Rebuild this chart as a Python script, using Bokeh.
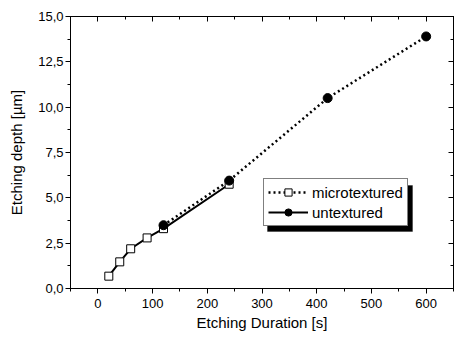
from bokeh.plotting import figure
from bokeh.models import (LinearAxis, SingleIntervalTicker, CustomJSTickFormatter,
                          Range1d, Legend, LegendItem, BoxAnnotation)
from bokeh.embed import file_html
from bokeh.resources import INLINE

# microtextured samples (open squares, solid line)
micro_x = [20, 40, 60, 90, 120, 240]
micro_y = [0.68, 1.47, 2.19, 2.79, 3.30, 5.75]
# untextured samples (filled circles, dotted line)
untex_x = [120, 240, 420, 600]
untex_y = [3.49, 5.95, 10.5, 13.9]

x_label = "Etching Duration [s]"
y_label = "Etching depth [µm]"
labels = ["microtextured", "untextured"]

FONT = "Liberation Sans"

p = figure(width=457, height=333, output_backend="svg", toolbar_location=None,
           x_range=Range1d(-50, 650), y_range=Range1d(0, 15),
           min_border_left=70, min_border_right=4, min_border_top=16,
           min_border_bottom=44)
p.xgrid.visible = False
p.ygrid.visible = False
p.outline_line_color = "black"
p.background_fill_color = "white"

xt = SingleIntervalTicker(interval=100, num_minor_ticks=2)
yt = SingleIntervalTicker(interval=2.5, num_minor_ticks=2)
yfmt = CustomJSTickFormatter(code="return tick.toFixed(1).replace('.', ',');")


def style(ax, labels_on, inward):
    ax.axis_line_color = "black"
    ax.axis_line_width = 1
    ax.major_tick_line_color = "black"
    ax.minor_tick_line_color = "black"
    if inward:
        ax.major_tick_in, ax.major_tick_out = 5, 0
        ax.minor_tick_in, ax.minor_tick_out = 3, 0
    else:
        ax.major_tick_in, ax.major_tick_out = 0, 5
        ax.minor_tick_in, ax.minor_tick_out = 0, 3
    ax.major_label_text_font = FONT
    ax.major_label_text_font_size = "13px"
    ax.major_label_text_color = "black"
    ax.axis_label_text_font = FONT
    ax.axis_label_text_font_size = "15px"
    ax.axis_label_text_font_style = "normal"
    ax.axis_label_text_color = "black"
    if not labels_on:
        ax.major_label_text_alpha = 0
        ax.major_label_text_font_size = "1px"
        ax.major_label_standoff = 0


p.xaxis.ticker = xt
p.yaxis.ticker = yt
p.yaxis.formatter = yfmt
p.xaxis.axis_label = x_label
p.yaxis.axis_label = y_label
style(p.xaxis[0], True, False)
style(p.yaxis[0], True, False)
p.xaxis.major_label_standoff = 5
p.xaxis.axis_label_standoff = 3
p.yaxis.major_label_standoff = 2
p.yaxis.axis_label_standoff = 10

top = LinearAxis(ticker=SingleIntervalTicker(interval=100, num_minor_ticks=2))
right = LinearAxis(ticker=SingleIntervalTicker(interval=2.5, num_minor_ticks=2))
style(top, False, True)
style(right, False, True)
p.add_layout(top, "above")
p.add_layout(right, "right")

solid = p.line(micro_x, micro_y, line_color="black", line_width=2)
dotted = p.line(untex_x, untex_y, line_color="black", line_width=2.5,
                line_dash="2 3")
sq = p.scatter(micro_x, micro_y, marker="square", size=8, fill_color="white",
               line_color="black", line_width=1)
ci = p.scatter(untex_x, untex_y, marker="circle", size=9, fill_color="black",
               line_color="black")

items = [LegendItem(label=labels[0], renderers=[dotted, sq]),
         LegendItem(label=labels[1], renderers=[solid, ci])]

# drop shadow of the legend box (canvas pixels)
shadow = BoxAnnotation(left=267, right=412, top=185, bottom=231,
                       left_units="canvas", right_units="canvas",
                       top_units="canvas", bottom_units="canvas",
                       fill_color="black", fill_alpha=1, line_color="black")
p.add_layout(shadow)

lg = Legend(items=items, location=(193, 62))
lg.label_text_font = FONT
lg.label_text_font_size = "15px"
lg.label_text_color = "black"
lg.glyph_width = 40
lg.glyph_height = 18
lg.label_height = 18
lg.spacing = 2
lg.padding = 4
lg.margin = 0
lg.label_standoff = 4
lg.border_line_color = "black"
lg.border_line_width = 1
lg.background_fill_alpha = 1
lg.background_fill_color = "white"
p.add_layout(lg)

open("out.html", "w").write(file_html(p, INLINE))
